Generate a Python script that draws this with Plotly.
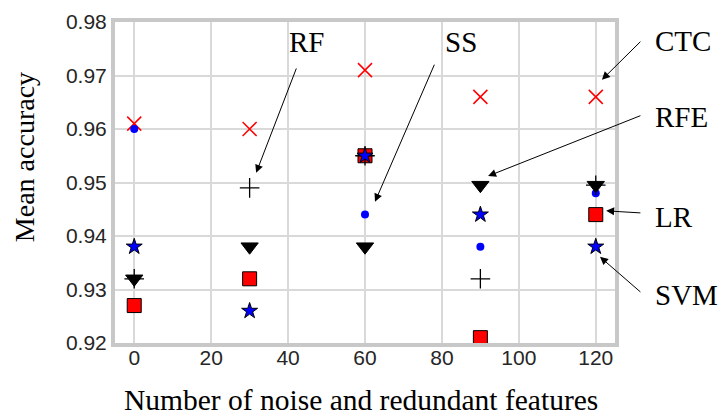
import plotly.graph_objects as go

x_vals = [0, 30, 60, 90, 120]

ctc = [0.961, 0.960, 0.971, 0.966, 0.966]
ss = [0.960, 0.932, 0.944, 0.938, 0.948]
lr = [0.927, 0.932, 0.955, 0.921, 0.944]
rf = [0.932, 0.949, 0.955, 0.932, 0.9495]
rfe = [0.932, 0.938, 0.938, 0.9495, 0.9495]
svm = [0.938, 0.926, 0.955, 0.944, 0.938]

x_ticks = [0, 20, 40, 60, 80, 100, 120]
y_ticks = [0.92, 0.93, 0.94, 0.95, 0.96, 0.97, 0.98]

fig = go.Figure()

def add(name, y, symbol, size, color, lcolor, lwidth):
    fig.add_trace(go.Scatter(
        x=x_vals, y=y, mode="markers", name=name,
        marker=dict(symbol=symbol, size=size, color=color,
                    line=dict(color=lcolor, width=lwidth)),
        cliponaxis=False,
    ))

add("CTC", ctc, "x-thin", 14, "red", "red", 1.5)
add("SS", ss, "circle", 8, "blue", "blue", 0)
add("LR", lr, "square", 14, "red", "black", 1)
add("RF", rf, "cross-thin", 14, "black", "black", 1.3)
add("RFE", rfe, "triangle-down", 15, "black", "black", 1)
add("SVM", svm, "star", 12, "blue", "black", 1)

serif = "Liberation Serif, Times New Roman, serif"

# text labels
labels = [
    ("RF", 0.344, 0.937),
    ("SS", 0.656, 0.937),
    ("CTC", 1.076, 0.942),
    ("RFE", 1.076, 0.704),
    ("LR", 1.076, 0.393),
    ("SVM", 1.076, 0.150),
]
for t, xp, yp in labels:
    fig.add_annotation(x=xp, y=yp, xref="paper", yref="paper", text=t,
                       showarrow=False, xanchor="left", yanchor="middle",
                       font=dict(family=serif, size=29, color="black"))

# axis titles as annotations
fig.add_annotation(x=-0.182, y=0.579, xref="paper", yref="paper",
                   text="Mean accuracy", textangle=-90, showarrow=False,
                   xanchor="center", yanchor="middle",
                   font=dict(family=serif, size=28, color="black"))
fig.add_annotation(x=0.492, y=-0.178, xref="paper", yref="paper",
                   text="Number of noise and redundant features", showarrow=False,
                   xanchor="center", yanchor="middle",
                   font=dict(family=serif, size=29.5, color="black"))

# arrows: (head x, head y, tail x, tail y) in data coords
arrows = [
    (31.7, 0.9518, 42.3, 0.9716),
    (62.6, 0.9464, 78.2, 0.9723),
    (121.6, 0.9692, 132.0, 0.9766),
    (92.0, 0.9512, 132.0, 0.9626),
    (122.7, 0.9447, 132.0, 0.9443),
    (121.1, 0.9361, 132.0, 0.9293),
]
for hx, hy, tx, ty in arrows:
    fig.add_annotation(x=hx, y=hy, ax=tx, ay=ty, xref="x", yref="y",
                       axref="x", ayref="y", text="", showarrow=True,
                       arrowhead=2, arrowsize=1.6, arrowwidth=1,
                       arrowcolor="black", standoff=0)

fig.update_layout(
    width=718, height=418,
    margin=dict(l=115, r=103, t=22, b=75, autoexpand=False),
    paper_bgcolor="white", plot_bgcolor="white",
    showlegend=False,
    font=dict(family="Liberation Sans, Arial, sans-serif", size=21, color="#262626"),
)
fig.update_xaxes(
    range=[-5, 125], tickvals=x_ticks, ticktext=[str(v) for v in x_ticks],
    showgrid=True, gridcolor="#d9d9d9", gridwidth=1.5,
    showline=True, linecolor="#c8c8c8", linewidth=4, mirror=True,
    zeroline=False, ticks="", automargin=False, ticklabelstandoff=-7,
)
fig.update_yaxes(
    range=[0.92, 0.98], tickvals=y_ticks, ticktext=[f"{v:.2f}" for v in y_ticks],
    showgrid=True, gridcolor="#d9d9d9", gridwidth=1.5,
    showline=True, linecolor="#c8c8c8", linewidth=4, mirror=True,
    zeroline=False, ticks="", automargin=False,
)

fig.write_html(
    "out.html",
    config={"displayModeBar": False},
    post_script="document.body.style.margin='0px';document.body.style.overflow='hidden';",
)
